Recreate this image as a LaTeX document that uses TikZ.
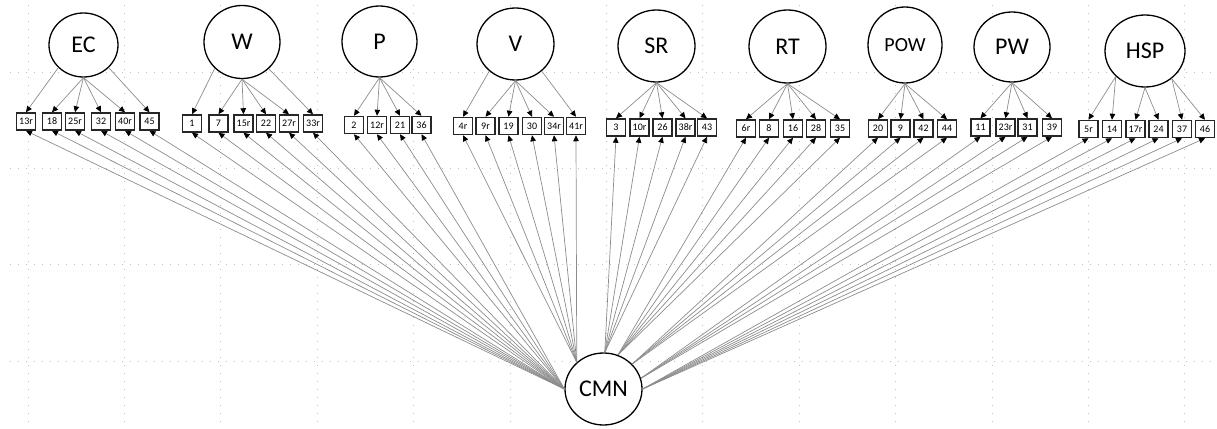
\documentclass[tikz,border=0pt]{standalone}
\usepackage{fontspec}
\setmainfont{Carlito}
\usetikzlibrary{shapes.geometric,arrows.meta}
\tikzset{
  lat/.style={ellipse, draw=black, line width=1.3pt, fill=white, inner sep=0pt, font=\fontsize{24}{24}\selectfont},
  obs/.style={rectangle, draw=black!85, line width=1.5pt, fill=white, minimum width=19pt, minimum height=17pt, inner xsep=1pt, inner ysep=0pt, font=\fontsize{10}{10}\selectfont},
  ld/.style={draw=black!45, line width=0.7pt, -{Triangle[length=6pt,width=5.5pt,color=black]}},
  gridl/.style={draw=black!25, line width=0.9pt, dash pattern=on 0.9pt off 7.1pt}
}
\begin{document}
\begin{tikzpicture}[x=1pt,y=-1pt]
\useasboundingbox (0,0) rectangle (1217,428);
% background grid
\foreach \k in {0,...,12}
  \draw[gridl] ({28+96.4*\k},5) -- ({28+96.4*\k},428);
\foreach \yy in {72,168.4,264.8,361.2}
  \draw[gridl] (10,\yy) -- (1217,\yy);
% latent variables
\node[lat, minimum width=69pt, minimum height=64pt] (EC) at (83.5,45) {EC};
\node[lat, minimum width=76pt, minimum height=73pt] (W) at (242,42) {W};
\node[lat, minimum width=75pt, minimum height=71pt] (P) at (379.5,41.5) {P};
\node[lat, minimum width=77pt, minimum height=72pt] (V) at (515.5,44) {V};
\node[lat, minimum width=77pt, minimum height=72pt] (SR) at (656.5,46) {SR};
\node[lat, minimum width=77pt, minimum height=73pt] (RT) at (787.5,46.5) {RT};
\node[lat, minimum width=74pt, minimum height=76pt, font=\fontsize{20}{20}\selectfont] (POW) at (905,45) {POW};
\node[lat, minimum width=76pt, minimum height=70pt] (PW) at (1012,47) {PW};
\node[lat, minimum width=80pt, minimum height=72pt] (HSP) at (1145,51) {HSP};
\node[lat, minimum width=77pt, minimum height=72pt] (CMN) at (603.5,389) {CMN};
% observed items
\foreach \n/\x in {13r/26,18/52,25r/75,32/101,40r/125,45/149.5}
  \node[obs] (o\n) at (\x,121.5) {\n};
\foreach \n/\x in {1/192,7/218.5,15r/243.5,22/266,27r/289,33r/313}
  \node[obs] (o\n) at (\x,123.5) {\n};
\foreach \n/\x in {2/354,12r/377,21/400,36/421.5}
  \node[obs] (o\n) at (\x,125) {\n};
\foreach \n/\x in {4r/463,9r/485.5,19/508.5,30/532,34r/554,41r/576}
  \node[obs] (o\n) at (\x,126) {\n};
\foreach \n/\x in {3/616,10r/639.5,26/662.5,38r/685.5,43/707}
  \node[obs] (o\n) at (\x,127.5) {\n};
\foreach \n/\x in {6r/746,8/769,16/793,28/816,35/840}
  \node[obs] (o\n) at (\x,128.5) {\n};
\foreach \n/\x in {20/878,9/900.5,42/923.5,44/947}
  \node[obs] (o\n) at (\x,128.5) {\n};
\foreach \n/\x in {11/980.5,23r/1005.5,31/1027.5,39/1052}
  \node[obs] (o\n) at (\x,127.5) {\n};
\foreach \n/\x in {5r/1088.5,14/1112,17r/1135.5,24/1158.5,37/1182,46/1205}
  \node[obs] (o\n) at (\x,129) {\n};
% loadings from group factors
\draw[ld] (EC.-138) -- (o13r.north);
\foreach \n in {18,25r,32,40r} \draw[ld] (EC.south) -- (o\n.north);
\draw[ld] (EC.-42) -- (o45.north);
\draw[ld] (W.-136) -- (o1.north);
\foreach \n in {7,15r,22,27r} \draw[ld] (W.south) -- (o\n.north);
\draw[ld] (W.-45) -- (o33r.north);
\foreach \n in {2,12r,21,36} \draw[ld] (P.south) -- (o\n.north);
\draw[ld] (V.-134) -- (o4r.north);
\foreach \n in {9r,19,30,34r} \draw[ld] (V.south) -- (o\n.north);
\draw[ld] (V.-46) -- (o41r.north);
\foreach \n in {3,10r,26,38r,43} \draw[ld] (SR.south) -- (o\n.north);
\foreach \n in {6r,8,16,28,35} \draw[ld] (RT.south) -- (o\n.north);
\foreach \n in {20,9,42,44} \draw[ld] (POW.south) -- (o\n.north);
\foreach \n in {11,23r,31,39} \draw[ld] (PW.south) -- (o\n.north);
\foreach \n in {5r,14} \draw[ld] (HSP.-139) -- (o\n.north);
\foreach \n in {17r,24} \draw[ld] (HSP.south) -- (o\n.north);
\foreach \n in {37,46} \draw[ld] (HSP.-46) -- (o\n.north);
% loadings from the common factor
\foreach \n in {13r,18,25r,32,40r,45,1,7,15r,22,27r,33r,2,12r,21,36}
  \draw[ld] (CMN.west) -- (o\n.south);
\foreach \n in {4r,9r,19,30,34r,41r} \draw[ld] (CMN.135) -- (o\n.south);
\foreach \n in {3,10r,26,38r,43} \draw[ld] (CMN.88) -- (o\n.south);
\foreach \n in {6r,8,16,28,35} \draw[ld] (CMN.67) -- (o\n.south);
\foreach \n in {20,9,42,44} \draw[ld] (CMN.41) -- (o\n.south);
\foreach \n in {11,23r,31,39} \draw[ld] (CMN.16) -- (o\n.south);
\foreach \n in {5r,14,17r,24,37,46} \draw[ld] (CMN.east) -- (o\n.south);
\end{tikzpicture}
\end{document}
